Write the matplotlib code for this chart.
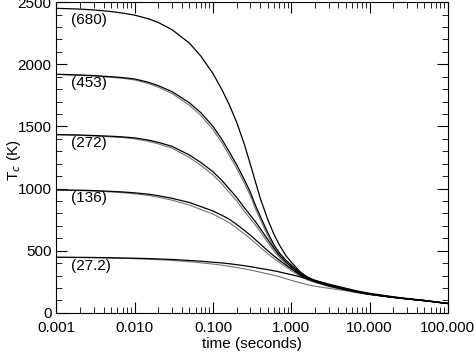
import matplotlib
matplotlib.use('Agg')
import matplotlib.pyplot as plt
from matplotlib.ticker import FixedLocator, LogLocator, MultipleLocator, FormatStrFormatter

# Time grid (seconds) shared by all curves
time_s = [0.001, 0.002, 0.003, 0.005, 0.007, 0.01, 0.015, 0.02, 0.03, 0.05,
          0.07, 0.1, 0.13, 0.16, 0.2, 0.25, 0.3, 0.35, 0.4, 0.5,
          0.6, 0.7, 0.85, 1.0, 1.3, 1.6, 2.0, 3.0, 5.0, 7.0,
          10.0, 20.0, 30.0, 50.0, 100.0]

# Solid curves
tc_680 = [2450, 2444, 2437, 2424, 2412, 2395, 2366, 2336, 2278, 2170,
          2065, 1925, 1795, 1680, 1535, 1360, 1195, 1050, 925, 752,
          632, 550, 462, 408, 330, 290, 262, 224, 190, 170,
          152, 127, 114, 100, 76]
tc_453 = [1920, 1914, 1909, 1900, 1893, 1882, 1855, 1828, 1780, 1690,
          1610, 1500, 1395, 1300, 1192, 1075, 970, 862, 780, 645,
          548, 485, 425, 385, 320, 283, 258, 222, 188, 168,
          151, 126, 113, 99, 76]
tc_272 = [1435, 1431, 1427, 1421, 1416, 1408, 1390, 1372, 1340, 1270,
          1210, 1135, 1065, 1000, 930, 848, 785, 732, 680, 590,
          520, 465, 410, 370, 312, 278, 255, 220, 187, 168,
          151, 126, 113, 99, 76]
tc_136 = [990, 987, 984, 978, 973, 966, 955, 943, 922, 888,
          855, 820, 785, 755, 712, 665, 625, 588, 555, 500,
          458, 425, 385, 355, 305, 275, 252, 218, 186, 167,
          150, 125, 113, 99, 76]
tc_27 = [448, 447, 446, 444, 442, 440, 437, 434, 430, 422,
         416, 408, 402, 396, 388, 380, 372, 365, 358, 348,
         339, 330, 318, 308, 290, 275, 262, 232, 198, 176,
         158, 130, 116, 101, 77]

# Companion (grey) curves
tc_453_b = [1918, 1911, 1905, 1895, 1887, 1874, 1845, 1816, 1765, 1670,
            1587, 1475, 1368, 1272, 1164, 1047, 942, 835, 754, 621,
            527, 467, 409, 371, 309, 274, 251, 217, 184, 165,
            149, 125, 112, 98, 75]
tc_272_b = [1433, 1428, 1423, 1416, 1410, 1400, 1380, 1360, 1325, 1250,
            1187, 1110, 1038, 972, 902, 820, 757, 705, 654, 566,
            499, 447, 394, 356, 301, 269, 248, 215, 183, 165,
            149, 125, 112, 98, 75]
tc_136_b = [988, 984, 980, 973, 967, 958, 945, 931, 907, 868,
            832, 795, 758, 727, 684, 637, 597, 561, 529, 476,
            437, 407, 369, 341, 294, 266, 245, 213, 182, 164,
            148, 124, 112, 98, 75]
tc_27_b = [447, 445, 444, 441, 439, 436, 432, 428, 422, 412,
           403, 393, 384, 375, 366, 355, 345, 336, 328, 314,
           302, 292, 276, 262, 242, 228, 215, 198, 178, 162,
           148, 124, 112, 98, 75]

labels = ['(680)', '(453)', '(272)', '(136)', '(27.2)']
label_y = [2354, 1850, 1369, 921, 376]

plt.rcParams['font.family'] = ['Liberation Sans', 'DejaVu Sans']

fig = plt.figure(figsize=(4.74, 3.52), dpi=100)
ax = fig.add_axes([0.119, 0.111, 0.826, 0.883])

for tc in [tc_453_b, tc_272_b, tc_136_b, tc_27_b]:
    ax.plot(time_s, tc, color='0.45', lw=0.8)
for tc in [tc_680, tc_453, tc_272, tc_136, tc_27]:
    ax.plot(time_s, tc, color='black', lw=0.9)

for lab, y in zip(labels, label_y):
    ax.text(0.00153, y, lab, fontsize=11, va='center', ha='left')

ax.set_xscale('log')
ax.set_xlim(0.001, 100)
ax.set_ylim(0, 2500)
ax.xaxis.set_major_locator(FixedLocator([0.001, 0.01, 0.1, 1, 10, 100]))
ax.xaxis.set_minor_locator(LogLocator(base=10, subs=range(2, 10), numticks=20))
ax.xaxis.set_major_formatter(FormatStrFormatter('%.3f'))
ax.yaxis.set_major_locator(MultipleLocator(500))
ax.yaxis.set_minor_locator(MultipleLocator(100))
ax.tick_params(which='both', direction='in', top=True, right=True, labelsize=11)
ax.tick_params(which='major', length=8)
ax.tick_params(which='minor', length=4)
ax.tick_params(axis='x', which='both', pad=6)

ax.set_xlabel('time (seconds)', fontsize=11, labelpad=1)
fig.text(0.03, 0.545, 'T$_c$ (K)', fontsize=11, rotation=90, ha='center', va='center')

fig.savefig('out.png', dpi=100)
